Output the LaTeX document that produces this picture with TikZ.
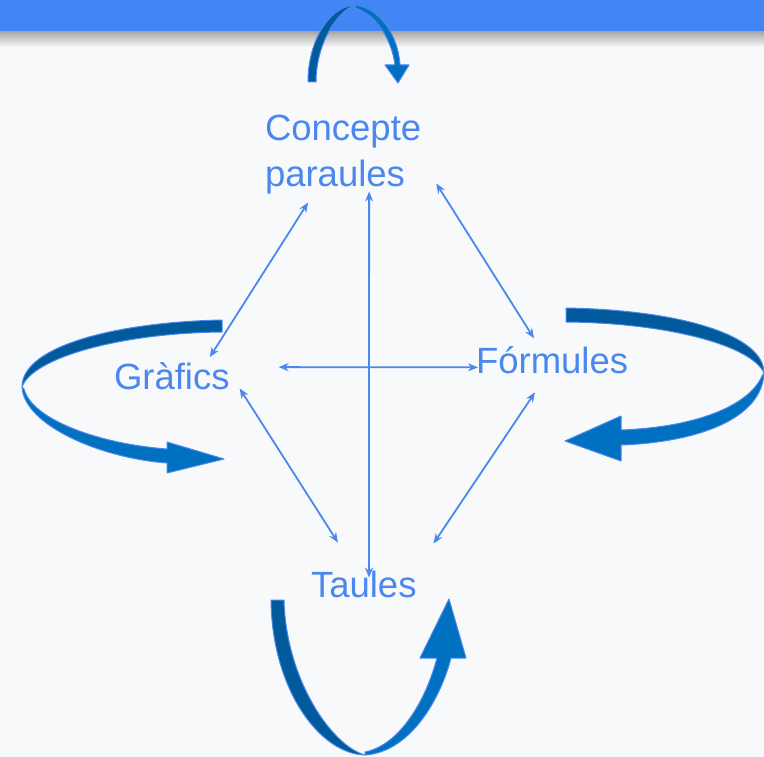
\documentclass[tikz,border=0pt]{standalone}
\usepackage{fontspec}
\setmainfont{Liberation Sans}
\usetikzlibrary{arrows.meta,positioning}
\definecolor{barblue}{HTML}{4285F4}
\definecolor{textblue}{HTML}{4A88EE}
\definecolor{backblue}{HTML}{005A9C}
\definecolor{frontblue}{HTML}{0070C0}
\definecolor{pagebg}{HTML}{F8F9FA}
\newcommand\labelfont{\fontsize{36.5}{41}\selectfont}
\tikzset{
  topic/.style={inner sep=0pt,outer sep=0pt,text=textblue,font=\labelfont,align=left},
  link/.style={draw=textblue,line width=1.8pt,{Stealth[length=10pt,width=8pt]}-{Stealth[length=10pt,width=8pt]}},
  backarm/.style={fill=backblue,draw=textblue,line width=1pt,line join=round},
  frontarm/.style={fill=frontblue,draw=textblue,line width=1pt,line join=round}
}

\begin{document}
\begin{tikzpicture}[x=1pt,y=-1pt]
  \fill[pagebg] (0,0) rectangle (764,757);
  \useasboundingbox (0,0) rectangle (764,757);
  \shade[top color=black!35,bottom color=pagebg] (0,31) rectangle (764,47);
  \fill[barblue] (0,0) rectangle (764,31);

  \node[topic,anchor=north west] (concepte) at (265,115.4) {Concepte\\[5pt]paraules};
  \node[topic,anchor=base west] (grafics) at (114,389) {Gràfics};
  \node[topic,anchor=base west] (formules) at (476,373) {Fórmules};
  \node[topic,anchor=base west] (taules) at (311,597) {Taules};

  \draw[link] ([xshift=-35pt,yshift=-8pt]concepte.south) -- ([xshift=38pt,yshift=5pt]grafics.north);
  \draw[link] ([xshift=26pt,yshift=3pt]concepte.south) -- ([xshift=58pt,yshift=-7pt]taules.north west);
  \draw[link] ([xshift=15pt,yshift=11pt]concepte.south east) -- ([xshift=58pt,yshift=35pt]formules.south west);
  \draw[link] ([xshift=49pt,yshift=-5pt]grafics.north east) -- ([xshift=2pt,yshift=6pt]formules.south west);
  \draw[link] ([xshift=10pt,yshift=1pt]grafics.south east) -- ([xshift=27pt,yshift=28pt]taules.north west);
  \draw[link] ([xshift=59pt,yshift=-19pt]formules.south west) -- ([xshift=17pt,yshift=27pt]taules.north east);

  % loop over the top
  \filldraw[backarm] (308,82) .. controls (308,40) and (330,6) .. (355,5)
    .. controls (336,12) and (316,45) .. (316,82) -- cycle;
  \filldraw[frontarm] (355,5) .. controls (380,8) and (398,35) .. (400,65)
    -- (409,65) -- (398,83) -- (385,65) -- (395,65)
    .. controls (392,40) and (376,14) .. (355,8) -- cycle;

  % loop on the left
  \filldraw[backarm] (222,320) .. controls (120,322) and (22,345) .. (22,387)
    .. controls (32,358) and (120,333) .. (222,332) -- cycle;
  \filldraw[frontarm] (22,387) .. controls (24,425) and (100,458) .. (167,463)
    -- (167,473) -- (224,459) -- (167,442) -- (167,449)
    .. controls (100,444) and (32,420) .. (24,389) -- cycle;

  % loop on the right
  \filldraw[backarm] (566,308) .. controls (680,310) and (764,335) .. (764,373)
    .. controls (752,346) and (670,323) .. (566,322) -- cycle;
  \filldraw[frontarm] (764,373) .. controls (762,418) and (700,442) .. (621,445)
    -- (621,461) -- (565,441) -- (621,416) -- (621,430)
    .. controls (700,427) and (750,404) .. (762,376) -- cycle;

  % loop underneath
  \filldraw[backarm] (271,600) .. controls (272,690) and (320,754) .. (365,755)
    .. controls (332,746) and (286,680) .. (284,600) -- cycle;
  \filldraw[frontarm] (365,755) .. controls (410,752) and (440,700) .. (451,658)
    -- (466,658) -- (449,599) -- (420,658) -- (437,658)
    .. controls (426,700) and (400,745) .. (365,752) -- cycle;
\end{tikzpicture}
\end{document}
